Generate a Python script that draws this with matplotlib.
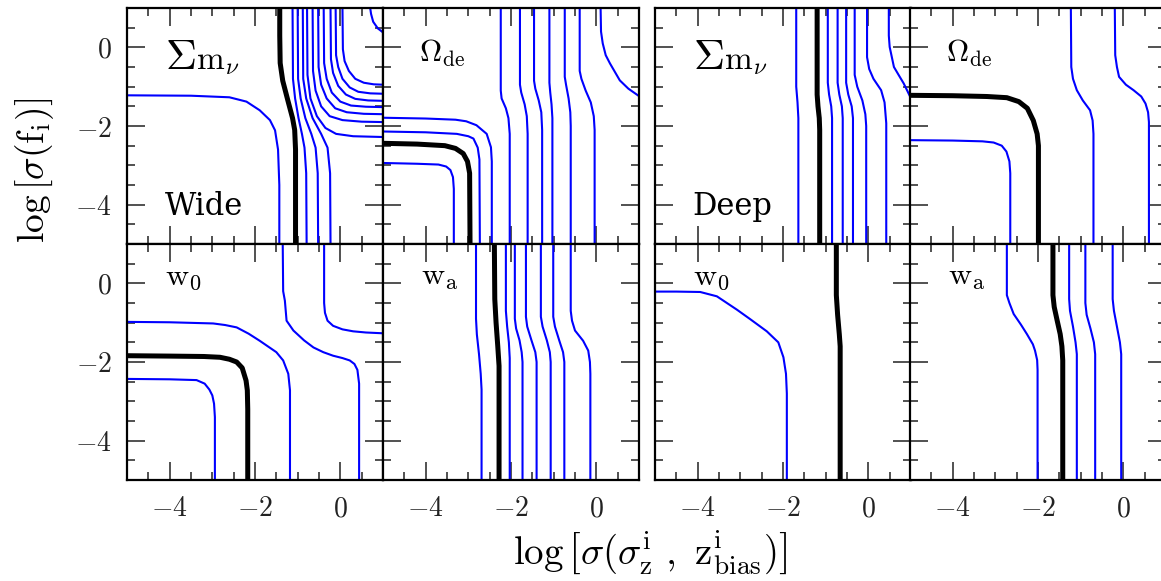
import matplotlib.pyplot as plt
from matplotlib.ticker import MultipleLocator

plt.rcParams['mathtext.fontset'] = 'cm'
plt.rcParams['font.family'] = 'DejaVu Serif'

BLUE = '#0000ff'

# axis ranges and ticks (same for every panel)
lim = [-5.0, 1.0]
major_ticks = [-4, -2, 0]
major_labels = [r'$-4$', r'$-2$', r'$0$']

# ---- Wide survey, sum m_nu ----
wide_mnu_black = ([-1.42, -1.42, -1.41, -1.35, -1.23, -1.12, -1.07, -1.05, -1.05],
                  [1.0, 0.3, -0.4, -0.85, -1.35, -1.8, -2.1, -2.6, -5.0])
wide_mnu_blue = [
    ([-5.0, -3.5, -2.6, -2.2, -1.89, -1.65, -1.53, -1.46, -1.43, -1.43],
     [-1.22, -1.23, -1.27, -1.38, -1.6, -1.85, -2.11, -2.6, -3.5, -5.0]),
    ([-1.12, -1.11, -1.06, -0.98, -0.90, -0.84, -0.80, -0.79],
     [1.0, -0.8, -1.3, -1.8, -2.2, -2.55, -3.2, -5.0]),
    ([-1.00, -0.99, -0.93, -0.82, -0.68, -0.58, -0.53, -0.52],
     [1.0, -0.8, -1.3, -1.8, -2.2, -2.55, -3.2, -5.0]),
    ([-0.88, -0.87, -0.80, -0.65, -0.45, -0.30, -0.24, -0.23],
     [1.0, -0.8, -1.3, -1.8, -2.2, -2.55, -3.2, -5.0]),
    ([-0.78, -0.77, -0.70, -0.55, -0.35, -0.10, 0.30, 1.0],
     [1.0, -0.7, -1.3, -1.75, -2.05, -2.2, -2.26, -2.28]),
    ([-0.65, -0.64, -0.58, -0.45, -0.25, 0.05, 0.5, 1.0],
     [1.0, -0.6, -1.1, -1.5, -1.75, -1.85, -1.89, -1.9]),
    ([-0.52, -0.51, -0.45, -0.32, -0.12, 0.15, 0.55, 1.0],
     [1.0, -0.5, -0.95, -1.3, -1.55, -1.65, -1.69, -1.7]),
    ([-0.39, -0.38, -0.32, -0.20, 0.0, 0.25, 0.6, 1.0],
     [1.0, -0.4, -0.8, -1.15, -1.38, -1.48, -1.51, -1.52]),
    ([-0.23, -0.22, -0.17, -0.05, 0.13, 0.35, 0.65, 1.0],
     [1.0, -0.3, -0.65, -0.98, -1.2, -1.31, -1.35, -1.36]),
    ([-0.11, -0.10, -0.05, 0.05, 0.22, 0.42, 0.7, 1.0],
     [1.0, -0.2, -0.5, -0.8, -1.02, -1.13, -1.17, -1.18]),
    ([0.05, 0.06, 0.10, 0.20, 0.35, 0.55, 0.78, 1.0],
     [1.0, -0.05, -0.35, -0.6, -0.8, -0.9, -0.94, -0.95]),
    ([0.70, 0.72, 0.77, 0.88, 1.0],
     [1.0, 0.85, 0.65, 0.48, 0.38]),
]

# ---- Wide survey, Omega_de ----
wide_ode_black = ([-5.0, -4.2, -3.55, -3.3, -3.12, -3.02, -2.97, -2.96],
                  [-2.44, -2.46, -2.5, -2.57, -2.7, -2.9, -3.2, -5.0])
wide_ode_blue = [
    ([-5.0, -4.0, -3.3, -3.05, -2.81, -2.57, -2.47, -2.45, -2.45],
     [-1.79, -1.81, -1.84, -1.88, -1.98, -2.2, -2.54, -2.9, -5.0]),
    ([-5.0, -4.0, -3.27, -3.0, -2.88, -2.78, -2.74, -2.73],
     [-2.14, -2.16, -2.2, -2.26, -2.32, -2.55, -2.85, -5.0]),
    ([-5.0, -4.2, -3.7, -3.52, -3.42, -3.36, -3.34, -3.34],
     [-2.94, -2.96, -2.98, -3.03, -3.12, -3.3, -3.6, -5.0]),
    ([-2.24, -2.24, -2.22, -2.12, -2.06, -2.03, -2.03],
     [1.0, -1.1, -1.3, -1.55, -1.8, -2.2, -5.0]),
    ([-1.79, -1.79, -1.76, -1.68, -1.63, -1.61, -1.61],
     [1.0, -0.95, -1.15, -1.45, -1.75, -2.2, -5.0]),
    ([-1.46, -1.46, -1.43, -1.35, -1.29, -1.27, -1.27],
     [1.0, -0.85, -1.05, -1.35, -1.65, -2.1, -5.0]),
    ([-1.10, -1.10, -1.08, -1.05, -1.03, -1.03],
     [1.0, -0.9, -1.15, -1.45, -1.8, -5.0]),
    ([-0.74, -0.74, -0.71, -0.65, -0.61, -0.60, -0.60],
     [1.0, -0.75, -0.95, -1.3, -1.65, -2.0, -5.0]),
    ([-0.39, -0.39, -0.35, -0.25, -0.13, -0.06, -0.04, -0.04],
     [1.0, -0.6, -0.8, -1.1, -1.4, -1.75, -2.1, -5.0]),
    ([0.10, 0.11, 0.15, 0.22, 0.32, 0.55, 0.75, 1.0],
     [1.0, 0.4, 0.1, -0.2, -0.41, -0.84, -1.05, -1.24]),
]

# ---- Deep survey, sum m_nu ----
deep_mnu_black = ([-1.20, -1.20, -1.18, -1.15, -1.14, -1.14],
                  [1.0, -1.2, -1.5, -1.8, -2.1, -5.0])
deep_mnu_blue = [
    ([-1.69, -1.69, -1.66, -1.64, -1.64], [1.0, -1.0, -1.4, -1.8, -5.0]),
    ([-0.95, -0.95, -0.92, -0.87, -0.85, -0.85], [1.0, -0.9, -1.2, -1.5, -1.8, -5.0]),
    ([-0.72, -0.72, -0.68, -0.62, -0.60, -0.60], [1.0, -0.9, -1.2, -1.5, -1.8, -5.0]),
    ([-0.52, -0.52, -0.47, -0.39, -0.36, -0.36], [1.0, -0.9, -1.2, -1.5, -1.8, -5.0]),
    ([-0.32, -0.32, -0.26, -0.14, -0.07, -0.05, -0.05],
     [1.0, -0.7, -1.0, -1.35, -1.7, -2.0, -5.0]),
    ([-0.03, -0.03, 0.02, 0.12, 0.30, 0.38, 0.42, 0.42],
     [1.0, -0.25, -0.55, -0.8, -1.09, -1.4, -1.93, -5.0]),
    ([0.48, 0.48, 0.50, 0.60, 0.72, 0.83, 0.92, 1.0],
     [1.0, 0.3, 0.01, -0.5, -0.72, -0.92, -1.12, -1.3]),
]

# ---- Deep survey, Omega_de ----
deep_ode_black = ([-5.0, -4.0, -3.2, -2.73, -2.45, -2.25, -2.11, -2.02, -1.99, -1.99],
                  [-1.22, -1.23, -1.25, -1.28, -1.38, -1.55, -1.86, -2.2, -2.5, -5.0])
deep_ode_blue = [
    ([-5.0, -4.0, -3.3, -3.04, -2.85, -2.74, -2.67, -2.65, -2.65],
     [-2.36, -2.37, -2.39, -2.42, -2.5, -2.65, -2.9, -3.2, -5.0]),
    ([-1.23, -1.22, -1.18, -1.09, -0.95, -0.78, -0.72, -0.70, -0.70],
     [1.0, -0.5, -0.8, -1.09, -1.35, -1.6, -1.86, -2.2, -5.0]),
    ([-0.20, -0.19, -0.15, -0.10, 0.06, 0.24, 0.42, 0.52, 0.58, 0.60, 0.60],
     [1.0, -0.2, -0.5, -0.75, -0.95, -1.09, -1.25, -1.43, -1.65, -1.9, -5.0]),
]

# ---- Wide survey, w0 ----
wide_w0_black = ([-5.0, -4.0, -3.2, -2.82, -2.6, -2.43, -2.3, -2.21, -2.18, -2.17, -2.17],
                 [-1.84, -1.85, -1.86, -1.88, -1.93, -2.0, -2.15, -2.47, -2.72, -3.2, -5.0])
wide_w0_blue = [
    ([-5.0, -4.0, -3.37, -3.18, -3.07, -3.0, -2.96, -2.94, -2.94],
     [-2.43, -2.44, -2.46, -2.55, -2.7, -2.85, -3.06, -3.4, -5.0]),
    ([-5.0, -4.0, -2.98, -2.7, -2.43, -2.15, -1.89, -1.5, -1.34, -1.22, -1.18, -1.18],
     [-0.98, -0.99, -1.02, -1.06, -1.12, -1.28, -1.46, -1.75, -1.96, -2.3, -2.72, -5.0]),
    ([-1.35, -1.34, -1.30, -1.26, -1.10, -0.85, -0.63, -0.40, -0.17, 0.05, 0.22, 0.33, 0.40,
      0.44, 0.44],
     [1.0, -0.2, -0.44, -0.95, -1.20, -1.45, -1.63, -1.75, -1.84, -1.9, -1.96, -2.05, -2.2,
      -2.55, -5.0]),
    ([-0.38, -0.38, -0.36, -0.30, -0.17, 0.05, 0.3, 0.6, 1.0],
     [1.0, -0.5, -0.75, -0.95, -1.08, -1.17, -1.22, -1.25, -1.27]),
]

# ---- Wide survey, wa ----
wide_wa_black = ([-2.39, -2.38, -2.35, -2.31, -2.28, -2.28],
                 [1.0, -0.4, -1.0, -1.6, -2.1, -5.0])
wide_wa_blue = [
    ([-2.82, -2.82, -2.80, -2.75, -2.71, -2.69, -2.69], [1.0, -0.9, -1.3, -1.8, -2.3, -2.7, -5.0]),
    ([-2.12, -2.12, -2.09, -2.05, -2.03, -2.03], [1.0, -0.7, -1.1, -1.5, -1.9, -5.0]),
    ([-1.91, -1.91, -1.88, -1.80, -1.75, -1.73, -1.73], [1.0, -0.9, -1.15, -1.45, -1.75, -2.0, -5.0]),
    ([-1.65, -1.65, -1.62, -1.52, -1.43, -1.40, -1.40], [1.0, -0.85, -1.1, -1.45, -1.75, -2.0, -5.0]),
    ([-1.30, -1.30, -1.26, -1.16, -1.09, -1.07, -1.07], [1.0, -0.85, -1.1, -1.45, -1.75, -2.0, -5.0]),
    ([-1.01, -1.01, -0.97, -0.87, -0.78, -0.75, -0.75], [1.0, -0.85, -1.1, -1.45, -1.75, -2.0, -5.0]),
    ([-0.60, -0.60, -0.57, -0.50, -0.31, -0.19, -0.15, -0.14, -0.14],
     [1.0, -0.7, -0.95, -1.2, -1.46, -1.71, -2.0, -2.3, -5.0]),
]

# ---- Deep survey, w0 ----
deep_w0_black = ([-0.75, -0.75, -0.72, -0.68, -0.66, -0.66],
                 [1.0, -0.3, -0.8, -1.3, -1.6, -5.0])
deep_w0_blue = [
    ([-5.0, -4.5, -3.94, -3.55, -3.08, -2.77, -2.38, -2.11, -1.99, -1.93, -1.91, -1.91],
     [-0.21, -0.21, -0.22, -0.33, -0.67, -0.91, -1.22, -1.50, -1.88, -2.30, -2.8, -5.0]),
]

# ---- Deep survey, wa ----
deep_wa_black = ([-1.65, -1.65, -1.62, -1.55, -1.48, -1.44, -1.42, -1.42],
                 [1.0, -0.3, -0.6, -0.95, -1.29, -1.6, -1.96, -5.0])
deep_wa_blue = [
    ([-2.73, -2.73, -2.67, -2.57, -2.40, -2.26, -2.12, -2.07, -2.02, -2.01, -2.01],
     [1.0, -0.3, -0.5, -0.78, -1.05, -1.29, -1.55, -1.71, -1.95, -2.2, -5.0]),
    ([-1.27, -1.27, -1.25, -1.18, -1.12, -1.09, -1.09], [1.0, -0.4, -0.7, -1.1, -1.5, -1.8, -5.0]),
    ([-0.89, -0.89, -0.86, -0.77, -0.69, -0.66, -0.66], [1.0, -0.5, -0.8, -1.15, -1.5, -1.8, -5.0]),
    ([-0.25, -0.25, -0.22, -0.15, -0.08, -0.05, -0.05], [1.0, -0.4, -0.7, -1.1, -1.5, -1.8, -5.0]),
]

param_labels = ['mnu', r'$\Omega_{\rm de}$', 'mnu', r'$\Omega_{\rm de}$',
                r'$\mathrm{w}_0$', r'$\mathrm{w}_{\rm a}$', r'$\mathrm{w}_0$', r'$\mathrm{w}_{\rm a}$']
survey_labels = ['Wide', '', 'Deep', '', '', '', '', '']

panels = [
    (wide_mnu_blue, wide_mnu_black), (wide_ode_blue, wide_ode_black),
    (deep_mnu_blue, deep_mnu_black), (deep_ode_blue, deep_ode_black),
    (wide_w0_blue, wide_w0_black), (wide_wa_blue, wide_wa_black),
    (deep_w0_blue, deep_w0_black), (deep_wa_blue, deep_wa_black),
]

W, H = 1161, 581
fig = plt.figure(figsize=(W / 100, H / 100), dpi=100)

col_left = [127, 383, 655, 910]   # pixels
row_top = [8, 244]
pw, ph = 256, 236

for k, (blues, black) in enumerate(panels):
    r, c = divmod(k, 4)
    rect = [col_left[c] / W, (H - row_top[r] - ph) / H, pw / W, ph / H]
    ax = fig.add_axes(rect)
    for xs, ys in blues:
        ax.plot(xs, ys, color=BLUE, lw=1.5, solid_joinstyle='round')
    ax.plot(black[0], black[1], color='black', lw=3.6, solid_joinstyle='round',
            solid_capstyle='butt')
    ax.set_xlim(lim)
    ax.set_ylim(lim)
    ax.set_xticks(major_ticks)
    ax.set_yticks(major_ticks)
    ax.xaxis.set_minor_locator(MultipleLocator(0.5))
    ax.yaxis.set_minor_locator(MultipleLocator(0.5))
    ax.tick_params(which='both', direction='in', top=True, right=True, width=1.1, colors='#222222')
    ax.tick_params(which='major', length=13, pad=11, labelsize=20)
    ax.tick_params(which='minor', length=6)
    for s in ax.spines.values():
        s.set_linewidth(1.6)
    if r == 1:
        ax.set_xticklabels(major_labels)
    else:
        ax.set_xticklabels([])
    if c == 0:
        ax.set_yticklabels(major_labels)
    else:
        ax.set_yticklabels([])

    if param_labels[k] == 'mnu':
        ax.text(-4.12, -0.55, r'$\Sigma$', fontsize=31, ha='left', va='baseline')
        ax.text(-3.38, -0.55, r'$\mathrm{m}_\nu$', fontsize=24, ha='left', va='baseline')
    elif r == 0:
        ax.text(-4.15, -0.38, param_labels[k], fontsize=22, ha='left', va='baseline')
    else:
        ax.text(-4.12, -0.02, param_labels[k], fontsize=23, ha='left', va='baseline')
    if survey_labels[k]:
        ax.text(-4.12, -4.25, survey_labels[k], fontsize=22, ha='left', va='baseline')

fig.text(0.030, 0.706, r'$\log\left[\sigma(\mathrm{f_i})\right]$', rotation=90,
         ha='center', va='center', fontsize=27)
fig.text(0.560, 0.030, r'$\log\left[\sigma(\sigma_\mathrm{z}^\mathrm{i}\ ,\ \mathrm{z}_\mathrm{bias}^\mathrm{i})\right]$',
         ha='center', va='baseline', fontsize=28)

fig.savefig('out.png', dpi=100)
